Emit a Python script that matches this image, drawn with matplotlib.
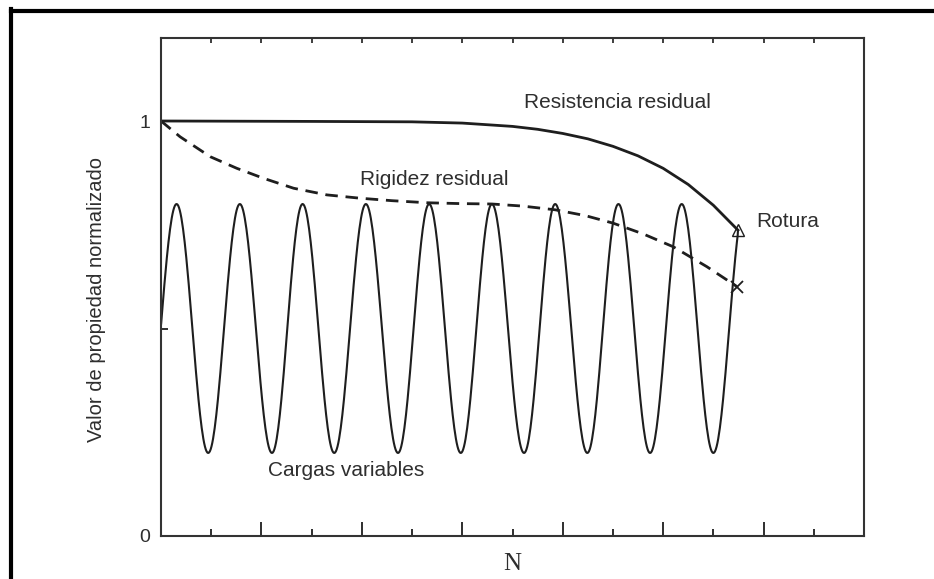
import numpy as np
import matplotlib
matplotlib.use("Agg")
import matplotlib.pyplot as plt
from matplotlib.lines import Line2D
from matplotlib.ticker import FixedLocator

# --- datos (N en unidades de marca, propiedad normalizada) ---
res_x = [0.0, 3.0, 5.0, 6.0, 7.0, 7.5, 8.0, 8.5, 9.0, 9.5, 10.0, 10.5, 11.0, 11.49]
res_y = [1.0, 0.999, 0.998, 0.995, 0.987, 0.980, 0.970, 0.957, 0.939, 0.916, 0.886, 0.847, 0.797, 0.737]

rig_x = [0.0, 0.38, 0.98, 1.51, 2.04, 2.64, 3.30, 3.96, 4.6, 5.30, 5.95, 6.59, 7.2, 7.85,
         8.45, 9.00, 9.6, 10.20, 10.87, 11.47]
rig_y = [1.0, 0.962, 0.914, 0.886, 0.862, 0.838, 0.822, 0.814, 0.808, 0.803, 0.801, 0.800,
         0.795, 0.786, 0.772, 0.754, 0.728, 0.697, 0.649, 0.601]

# cargas variables: posiciones de picos y valles
load_peaks_x = [0.31, 1.57, 2.82, 4.08, 5.34, 6.59, 7.85, 9.11, 10.37]
load_troughs_x = [0.94, 2.21, 3.45, 4.72, 5.97, 7.23, 8.49, 9.74, 11.00]
load_peak = 0.80
load_trough = 0.20

rotura_res = (11.49, 0.737)
rotura_rig = (11.48, 0.601)

x_major = [2, 4, 6, 8, 10, 12]
x_minor = [1, 3, 5, 7, 9, 11, 13]
y_ticks = [0.0, 0.5, 1.0]
y_ticklabels = ["0", "", "1"]

FONT = "Liberation Sans"
INK = "#1e1e1e"
TXT = "#2e2e2e"


def load_curve():
    """Construye la curva de cargas con semiondas entre picos y valles"""
    half = load_troughs_x[0] - load_peaks_x[0]
    ext_x = [load_peaks_x[0] - half]
    ext_y = [load_trough]
    for p, t in zip(load_peaks_x, load_troughs_x):
        ext_x += [p, t]
        ext_y += [load_peak, load_trough]
    ext_x.append(load_troughs_x[-1] + half)
    ext_y.append(load_peak)

    xs, ys = [], []
    for i in range(len(ext_x) - 1):
        t = np.linspace(0, 1, 40)
        xs.append(ext_x[i] + (ext_x[i + 1] - ext_x[i]) * t)
        ys.append(ext_y[i] + (ext_y[i + 1] - ext_y[i]) * (1 - np.cos(np.pi * t)) / 2)
    xs = np.concatenate(xs)
    ys = np.concatenate(ys)
    keep = (xs >= 0) & (xs <= rotura_res[0])
    xs = np.append(xs[keep], rotura_res[0])
    ys = np.append(ys[keep], rotura_res[1])
    return xs, ys


fig = plt.figure(figsize=(9.34, 5.79), dpi=100)
ax = fig.add_axes([161 / 934, 43 / 579, 703 / 934, 498 / 579])

lx, ly = load_curve()
ax.plot(lx, ly, color=INK, lw=1.5)
ax.plot(res_x, res_y, color=INK, lw=2.0)
ax.plot(rig_x, rig_y, color=INK, lw=2.0, dashes=(4.5, 2.8))

ax.plot(*rotura_res, marker="^", ms=9, mfc="none", mec=INK, mew=1.0)
ax.plot(*rotura_rig, marker="x", ms=9, mec=INK, mew=1.3)

ax.set_xlim(0, 14)
ax.set_ylim(0, 1.2)

ax.xaxis.set_major_locator(FixedLocator(x_major))
ax.xaxis.set_minor_locator(FixedLocator(x_minor))
ax.set_xticklabels([])
ax.tick_params(axis="x", which="major", direction="in", length=10, width=1.3, color=INK)
ax.tick_params(axis="x", which="minor", direction="in", length=5, width=1.3, color=INK)

# marcas cortas en el borde superior
top = ax.secondary_xaxis("top")
top.xaxis.set_major_locator(FixedLocator(x_major + x_minor))
top.set_xticklabels([])
top.tick_params(direction="in", length=3.5, width=1.2, color=INK)
top.spines["top"].set_visible(False)

ax.set_yticks(y_ticks)
ax.set_yticklabels(y_ticklabels, fontfamily=FONT, fontsize=14, color=TXT)
ax.tick_params(axis="y", direction="in", length=5, width=1.3, color=INK, pad=8)

for s in ax.spines.values():
    s.set_color("#333333")
    s.set_linewidth(1.5)

fig.text(97 / 934, 1 - 300 / 579, "Valor de propiedad normalizado", fontfamily=FONT,
         fontsize=14.5, color=TXT, rotation=90, ha="center", va="center")
ax.set_xlabel("N", fontfamily="Liberation Serif", fontsize=18, color=TXT, labelpad=9)

ax.text(9.08, 1.045, "Resistencia residual", fontfamily=FONT, fontsize=15,
        color=TXT, ha="center", va="center")
ax.text(5.45, 0.86, "Rigidez residual", fontfamily=FONT, fontsize=15,
        color=TXT, ha="center", va="center")
ax.text(11.85, 0.757, "Rotura", fontfamily=FONT, fontsize=15,
        color=TXT, ha="left", va="center")
ax.text(2.14, 0.158, "Cargas variables", fontfamily=FONT, fontsize=15,
        color=TXT, ha="left", va="center")

# marco negro exterior de la imagen
fig.add_artist(Line2D([11 / 934, 11 / 934], [0, 1 - 9 / 579], lw=3.0, color="black",
                      transform=fig.transFigure, solid_capstyle="projecting"))
fig.add_artist(Line2D([11 / 934, 1], [1 - 10.5 / 579, 1 - 10.5 / 579], lw=3.0,
                      color="black", transform=fig.transFigure,
                      solid_capstyle="projecting"))

fig.savefig("out.png", dpi=100)
